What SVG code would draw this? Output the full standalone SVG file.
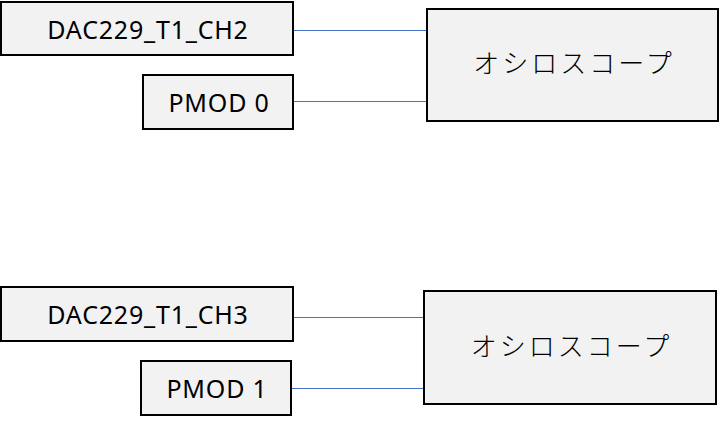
<svg xmlns="http://www.w3.org/2000/svg" width="720" height="424" viewBox="0 0 720 424">
<style>
.box{fill:#f2f2f2;stroke:#000;stroke-width:2}
.lbl{font-family:"Noto Sans","Open Sans",sans-serif;font-size:25px;fill:#000;text-anchor:middle;dominant-baseline:central;letter-spacing:0.8px}
.jp{font-family:"Noto Sans CJK JP",sans-serif;font-size:26px;font-weight:300;fill:#000;text-anchor:middle;dominant-baseline:central;letter-spacing:3px}
.wire{stroke:#4472c4;stroke-width:1.2;fill:none}
</style>
<rect width="720" height="424" fill="#fff"/>
<g id="connectors">
<line class="wire" x1="294" y1="30.5" x2="427" y2="30.5"/>
<line class="wire" x1="294" y1="101.5" x2="427" y2="101.5"/>
<line class="wire" x1="294" y1="317.5" x2="424" y2="317.5"/>
<line class="wire" x1="292" y1="388.5" x2="424" y2="388.5"/>
</g>
<g id="dac_ch2"><rect class="box" x="1" y="2" width="292" height="53"/><text class="lbl" x="148" y="29">DAC229_T1_CH2</text></g>
<g id="pmod0"><rect class="box" x="143" y="75" width="150" height="54"/><text class="lbl" x="219" y="102">PMOD 0</text></g>
<g id="scope1"><rect class="box" x="427" y="9" width="291" height="112"/><text class="jp" x="574" y="61">オシロスコープ</text></g>
<g id="dac_ch3"><rect class="box" x="1" y="287" width="292" height="54"/><text class="lbl" x="148" y="314">DAC229_T1_CH3</text></g>
<g id="pmod1"><rect class="box" x="141" y="361" width="150" height="54"/><text class="lbl" x="217" y="388">PMOD 1</text></g>
<g id="scope2"><rect class="box" x="424" y="291" width="292" height="113"/><text class="jp" x="571.5" y="344">オシロスコープ</text></g>
</svg>
